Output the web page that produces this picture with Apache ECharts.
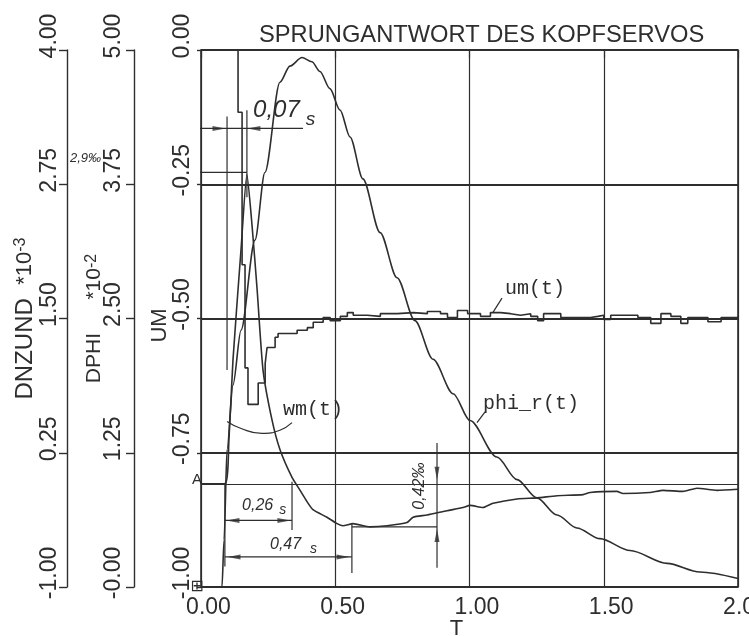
<!DOCTYPE html>
<html>
<head>
<meta charset="utf-8">
<script src="https://cdn.jsdelivr.net/npm/echarts@6/dist/echarts.min.js"></script>
<style>
  html, body { margin: 0; background: #fff; }
  #chart { width: 749px; height: 636px; }
</style>
</head>
<body>
<div id="chart"></div>
<script>
// tick labels as printed by the plotter
const xTicks = ['0.00', '0.50', '1.00', '1.50', '2.00'];
const umTicks = ['-1.00', '-0.75', '-0.50', '-0.25', '0.00'];
const dphiTicks = ['-0.00', '1.25', '2.50', '3.75', '5.00'];
const dnzTickValues = [-1, 0.25, 1.5, 2.75, 4];
const dnzTicks = ['-1.00', '0.25', '1.50', '2.75', '4.00'];

// phi_r(t) on DPHI *10^-2
const phiT = [0, 0.078, 0.086, 0.097, 0.119, 0.149, 0.201, 0.238, 0.294, 0.331, 0.376, 0.413, 0.443, 0.48, 0.518, 0.555, 0.603, 0.667, 0.73, 0.797, 0.864, 0.939, 1.002, 1.102, 1.177, 1.251, 1.326, 1.4, 1.486, 1.598, 1.736, 1.858, 2.0];
const phiV = [0, 0, 0.44, 1.28, 1.88, 2.39, 3.23, 3.86, 4.70, 4.85, 4.93, 4.89, 4.80, 4.64, 4.44, 4.19, 3.80, 3.30, 2.88, 2.48, 2.12, 1.80, 1.55, 1.21, 1.00, 0.83, 0.67, 0.55, 0.45, 0.34, 0.22, 0.14, 0.08];

// DNZUND *10^-3
const dnzT = [0, 0.089, 0.104, 0.119, 0.149, 0.171, 0.19, 0.209, 0.231, 0.264, 0.294, 0.339, 0.369, 0.391, 0.417, 0.469, 0.507, 0.529, 0.566, 0.629, 0.693, 0.767, 0.79, 0.842, 0.916, 0.976, 1.002, 1.05, 1.088, 1.177, 1.251, 1.326, 1.423, 1.449, 1.549, 1.572, 1.672, 1.721, 1.795, 1.847, 1.922, 2.0];
const dnzV = [-0.04, -0.04, 0.37, 1.11, 2.14, 2.84, 2.37, 1.77, 1.02, 0.56, 0.28, 0.02, -0.10, -0.19, -0.28, -0.35, -0.41, -0.43, -0.41, -0.44, -0.43, -0.40, -0.35, -0.33, -0.29, -0.26, -0.24, -0.26, -0.22, -0.18, -0.17, -0.15, -0.14, -0.12, -0.11, -0.13, -0.12, -0.10, -0.11, -0.08, -0.10, -0.09];

// um(t) on UM, stepped
const umT = [0, 0.138, 0.153, 0.164, 0.175, 0.213, 0.239, 0.246, 0.276, 0.287, 0.358, 0.396, 0.418, 0.455, 0.481, 0.519, 0.545, 0.567, 0.619, 0.668, 0.731, 0.791, 0.843, 0.892, 0.918, 0.955, 0.993, 1.041, 1.078, 1.116, 1.153, 1.19, 1.228, 1.254, 1.276, 1.34, 1.451, 1.478, 1.5, 1.526, 1.627, 1.675, 1.713, 1.75, 1.787, 1.813, 1.888, 1.937, 2.0];
const umV = [0, -0.116, -0.40, -0.592, -0.66, -0.62, -0.584, -0.554, -0.535, -0.528, -0.522, -0.517, -0.507, -0.498, -0.504, -0.496, -0.489, -0.494, -0.496, -0.491, -0.489, -0.491, -0.487, -0.491, -0.498, -0.485, -0.491, -0.496, -0.489, -0.491, -0.494, -0.491, -0.496, -0.504, -0.491, -0.498, -0.496, -0.494, -0.502, -0.494, -0.498, -0.509, -0.491, -0.496, -0.509, -0.498, -0.506, -0.498, -0.496];

// DNZUND reference level
const dnzRef = -0.04;

// hand-drawn dimension lines, in (T, DNZUND) units
const dimLines = [
  [[0.097, 3.38], [0.097, 1.02]],
  [[0.089, -0.03], [0.089, -0.81]],
  [[0.171, 3.44], [0.171, 2.63]],
  [[-0.067, 3.27], [0.38, 3.27]],
  [[-0.015, 2.86], [0.171, 2.86]],
  [[-0.495, 2.89], [-0.402, 2.89]],
  [[0.089, -0.38], [0.339, -0.38]],
  [[0.339, -0.02], [0.339, -0.47]],
  [[0.089, -0.72], [0.562, -0.72]],
  [[0.562, -0.41], [0.562, -0.87]],
  [[0.562, -0.44], [0.879, -0.44]],
  [[0.879, 0.34], [0.879, -0.82]],
  [[1.121, 1.69], [1.088, 1.56]],
  [[1.058, 0.63], [1.028, 0.53]]
];
const wmLeader = [[0.097, 0.54], [0.145, 0.48], [0.227, 0.43], [0.294, 0.46], [0.339, 0.53]];
// arrow heads: T, DNZUND, rotation
const arrows = [
  [0.067, 3.27, -90], [0.197, 3.27, 90],
  [0.119, -0.38, 90], [0.309, -0.38, -90],
  [0.123, -0.72, 90], [0.529, -0.72, -90],
  [0.879, 0.06, 180], [0.879, -0.52, 0]
];

const ink = '#2e2e2e';
const plotFont = 'Liberation Sans';
const pair = (xs, ys) => xs.map((x, i) => [x, ys[i]]);

const chart = echarts.init(document.getElementById('chart'));

function annoLine(points, smooth) {
  return {
    type: 'line', xAxisIndex: 0, yAxisIndex: 2, data: points,
    symbol: 'none', clip: false, silent: true, smooth: !!smooth,
    lineStyle: { color: ink, width: 1.2 }, z: 3
  };
}

function leftAxis(opt) {
  return Object.assign({
    type: 'value', position: 'left',
    axisLine: { show: true, lineStyle: { color: ink, width: 1.4 } },
    axisTick: { show: true, inside: false, length: 8, lineStyle: { color: ink, width: 1.4 } },
    splitLine: { show: false },
    nameLocation: 'middle', nameRotate: 90, nameMoveOverlap: false
  }, opt);
}

const labelStyle = { fontFamily: plotFont, fontSize: 23, color: ink, rotate: 90, padding: [0, 0, 0, 28] };

const option = {
  backgroundColor: '#ffffff',
  animation: false,
  title: {
    text: 'SPRUNGANTWORT DES KOPFSERVOS',
    left: 254, top: 18,
    textStyle: { fontFamily: plotFont, fontSize: 23.7, fontWeight: 'normal', color: ink }
  },
  grid: {
    left: 201, right: 11, top: 50, bottom: 49,
    show: true, borderColor: ink, borderWidth: 1.6,
    outerBoundsMode: 'none', containLabel: false
  },
  xAxis: {
    type: 'value', min: 0, max: 2, interval: 0.5,
    axisLine: { show: false },
    axisTick: { show: true, length: 8, lineStyle: { color: ink, width: 1.2 } },
    axisLabel: {
      fontFamily: plotFont, fontSize: 23, color: ink, margin: 9, padding: [0, 0, 0, 15],
      formatter: v => xTicks[Math.round(v / 0.5)]
    },
    splitLine: { show: true, lineStyle: { color: ink, width: 1.2 } },
    name: 'T', nameLocation: 'middle', nameGap: 31, nameMoveOverlap: false,
    nameTextStyle: { fontFamily: plotFont, fontSize: 22, color: ink, padding: [0, 26, 0, 0] }
  },
  yAxis: [
    {
      type: 'value', min: -1, max: 0, interval: 0.25, position: 'left',
      axisLine: { show: false },
      axisTick: { show: true, length: 4, lineStyle: { color: ink, width: 1.4 } },
      axisLabel: Object.assign({}, labelStyle, {
        margin: 7, formatter: v => umTicks[Math.round((v + 1) / 0.25)]
      }),
      splitLine: { show: true, lineStyle: { color: ink, width: 2 } },
      name: 'UM', nameLocation: 'middle', nameRotate: 90, nameGap: 30, nameMoveOverlap: false,
      nameTextStyle: { fontFamily: plotFont, fontSize: 22, color: ink, padding: [0, 14, 0, 0] }
    },
    leftAxis({
      min: 0, max: 5, interval: 1.25, offset: 67,
      axisLabel: Object.assign({}, labelStyle, {
        margin: 9, formatter: v => dphiTicks[Math.round(v / 1.25)]
      }),
      name: '{n|DPHI}          {m|*10}{s|-2}', nameGap: 29,
      nameTextStyle: {
        color: ink, fontSize: 12,
        rich: {
          n: { fontFamily: plotFont, fontSize: 21, color: ink },
          m: { fontFamily: plotFont, fontSize: 21, color: ink },
          s: { fontFamily: plotFont, fontSize: 16, color: ink, verticalAlign: 'top' }
        }
      }
    }),
    leftAxis({
      min: -1, max: 4, offset: 134,
      axisTick: { show: true, inside: false, length: 8, customValues: dnzTickValues, lineStyle: { color: ink, width: 1.4 } },
      axisLabel: Object.assign({}, labelStyle, {
        margin: 6, customValues: dnzTickValues,
        formatter: v => dnzTicks[dnzTickValues.findIndex(t => Math.abs(t - v) < 1e-6)]
      }),
      name: '{n|DNZUND}    {m|*10}{s|-3}', nameGap: 30,
      nameTextStyle: {
        color: ink, fontSize: 12,
        rich: {
          n: { fontFamily: plotFont, fontSize: 24, color: ink },
          m: { fontFamily: plotFont, fontSize: 22, color: ink },
          s: { fontFamily: plotFont, fontSize: 16, color: ink, verticalAlign: 'top' }
        }
      }
    })
  ],
  series: [
    {
      name: 'phi_r(t)', type: 'line', xAxisIndex: 0, yAxisIndex: 1,
      data: pair(phiT, phiV), showSymbol: false, smooth: 0.3, smoothMonotone: 'x',
      lineStyle: { color: ink, width: 1.6 }, z: 4
    },
    {
      name: 'DNZUND', type: 'line', xAxisIndex: 0, yAxisIndex: 2,
      data: pair(dnzT, dnzV), showSymbol: false, smooth: 0.2,
      lineStyle: { color: ink, width: 1.6 }, z: 4,
      markLine: {
        silent: true, symbol: 'none', label: { show: false },
        lineStyle: { color: ink, width: 1.1, type: 'solid' },
        data: [{ yAxis: dnzRef }]
      }
    },
    {
      name: 'um(t)', type: 'line', xAxisIndex: 0, yAxisIndex: 0,
      data: pair(umT, umV), showSymbol: false, step: 'end',
      lineStyle: { color: ink, width: 1.6 }, z: 4
    },
    ...dimLines.map(l => annoLine(l)),
    annoLine(wmLeader, true),
    {
      type: 'scatter', xAxisIndex: 0, yAxisIndex: 2, clip: false, silent: true,
      symbol: 'triangle', symbolSize: [5, 13],
      itemStyle: { color: ink },
      data: arrows.map(a => ({ value: [a[0], a[1]], symbolRotate: a[2] })), z: 5
    }
  ]
};

chart.setOption(option);

// hand written notes, start markers and curve labels, anchored in (T, DNZUND) units
const hand = 'italic 24px "Liberation Sans"';
const handSmall = 'italic 16px "Liberation Sans"';
const mono = '20px "Liberation Mono"';
const notes = [
  { text: '0,07', at: [0.194, 3.55], font: hand },
  { text: 's', at: [0.39, 3.44], font: 'italic 19px "Liberation Sans"' },
  { text: '0,26', at: [0.153, -0.17], font: handSmall },
  { text: 's', at: [0.291, -0.22], font: 'italic 14px "Liberation Sans"' },
  { text: '0,47', at: [0.257, -0.53], font: handSmall },
  { text: 's', at: [0.406, -0.58], font: 'italic 14px "Liberation Sans"' },
  { text: '0,42‰', at: [0.842, -0.28], font: handSmall, rot: Math.PI / 2, va: 'bottom' },
  { text: '2,9‰', at: [-0.488, 3.05], font: 'italic 13px "Liberation Sans"' },
  { text: 'A', at: [-0.015, 0.0], font: '15px "Liberation Sans"', align: 'center', va: 'middle' },
  { text: '⊞', at: [-0.015, -1.0], font: '16px "DejaVu Sans"', align: 'center', va: 'middle' },
  { text: 'um(t)', at: [1.132, 1.87], font: mono },
  { text: 'phi_r(t)', at: [1.05, 0.80], font: mono },
  { text: 'wm(t)', at: [0.305, 0.745], font: mono }
];

chart.setOption({
  graphic: {
    elements: notes.map(n => {
      const p = chart.convertToPixel({ xAxisIndex: 0, yAxisIndex: 2 }, n.at);
      return {
        type: 'text', x: p[0], y: p[1], rotation: n.rot || 0, silent: true, z: 10,
        style: {
          text: n.text, font: n.font, fill: ink,
          textAlign: n.align || 'left', textVerticalAlign: n.va || 'top'
        }
      };
    })
  }
});
</script>
</body>
</html>
